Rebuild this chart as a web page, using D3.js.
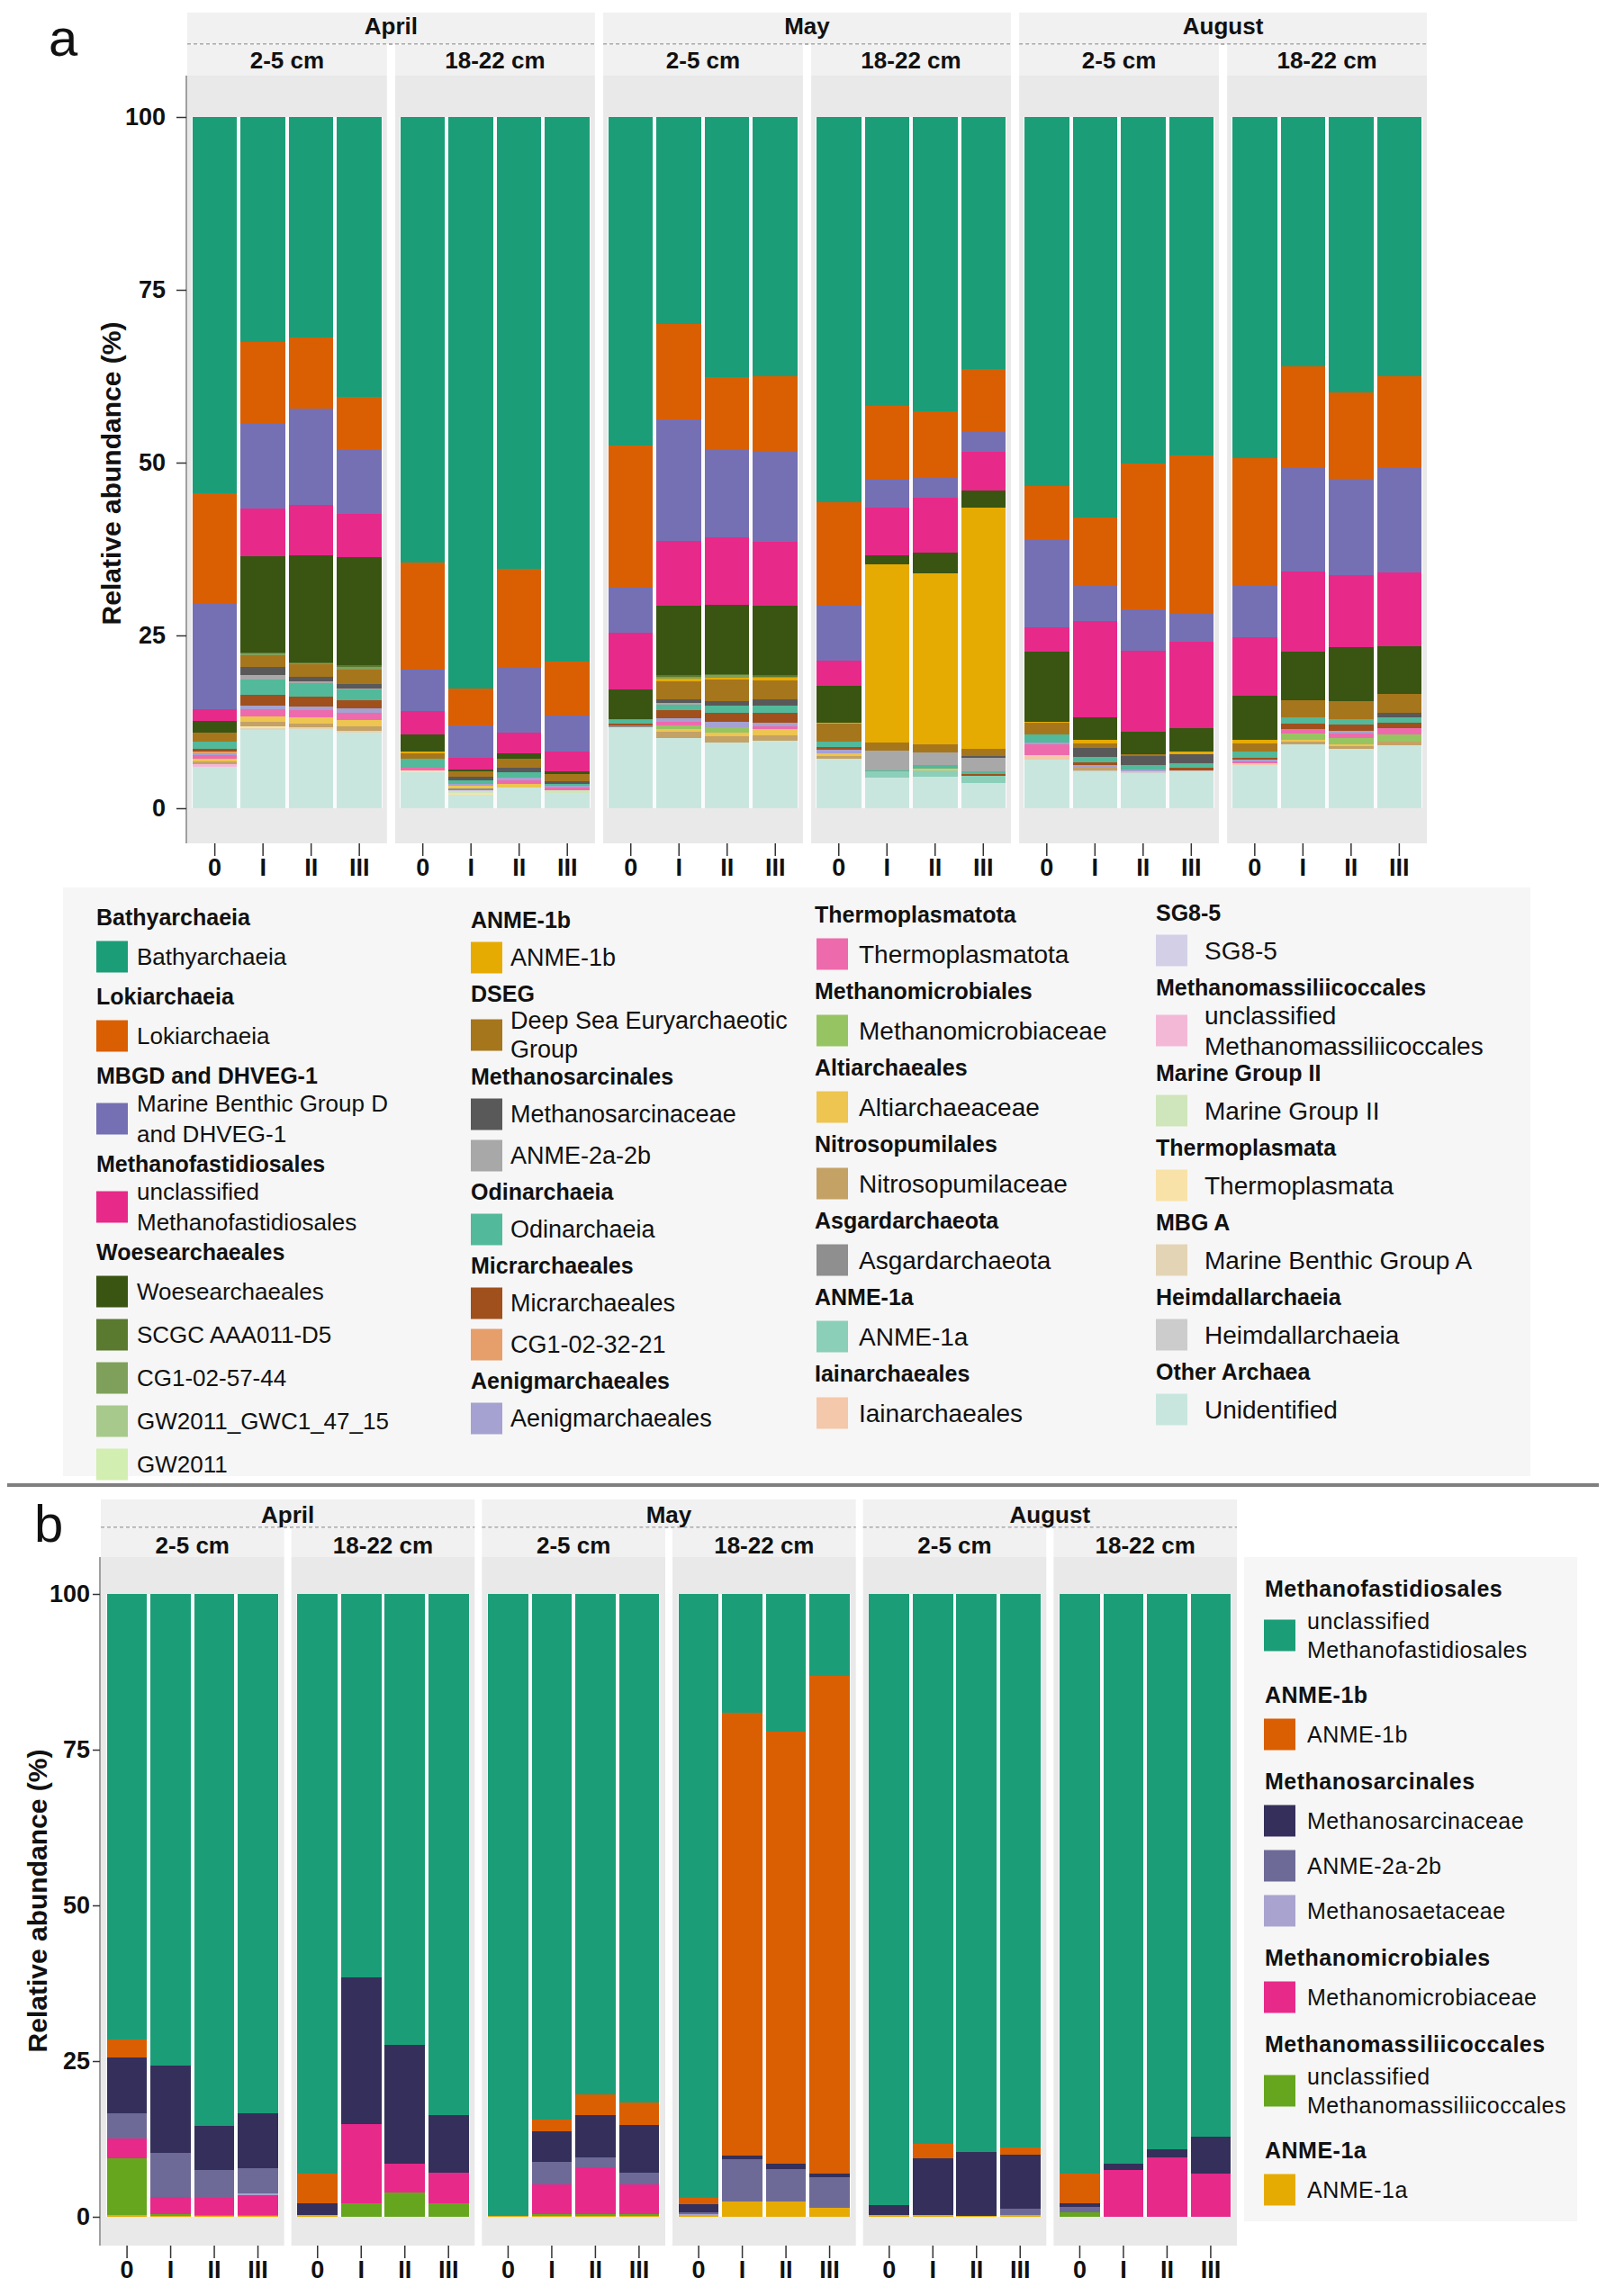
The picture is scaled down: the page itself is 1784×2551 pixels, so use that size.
<!DOCTYPE html>
<html>
<head>
<meta charset="utf-8">
<script src="https://cdn.jsdelivr.net/npm/d3@7"></script>
<style>
  body { margin: 0; background: #fff; }
  svg text { font-family: "Liberation Sans", Arial, sans-serif; }
</style>
</head>
<body>
<svg id="fig" width="1784" height="2551"></svg>
<script>
// facets and samples
const months = ["April", "May", "August"];
const depths = ["2-5 cm", "18-22 cm"];
const treatments = ["0", "I", "II", "III"];
const yTicks = [0, 25, 50, 75, 100];

// ---------- panel a : archaeal community (top of the stack first) ----------
const taxaA = ["Bathyarchaeia", "Lokiarchaeia", "Marine Benthic Group D|and DHVEG-1", "unclassified|Methanofastidiosales",
  "Woesearchaeales", "SCGC AAA011-D5", "CG1-02-57-44", "GW2011_GWC1_47_15", "GW2011", "ANME-1b",
  "Deep Sea Euryarchaeotic|Group", "Methanosarcinaceae", "ANME-2a-2b", "Odinarchaeia", "Micrarchaeales",
  "CG1-02-32-21", "Aenigmarchaeales", "Thermoplasmatota", "Methanomicrobiaceae", "Altiarchaeaceae",
  "Nitrosopumilaceae", "Asgardarchaeota", "ANME-1a", "Iainarchaeales", "SG8-5",
  "unclassified|Methanomassiliicoccales", "Marine Group II", "Thermoplasmata", "Marine Benthic Group A",
  "Heimdallarchaeia", "Unidentified"];
const colorsA = ["#1b9e77", "#d95f02", "#7570b3", "#e7298a", "#3a5412", "#5a7a30", "#7fa05a", "#a8c98c",
  "#d2eeb0", "#e6ab02", "#a6761d", "#595959", "#a8a8a8", "#52b99a", "#a0501c", "#e69e6a", "#a5a1d0",
  "#ed6bad", "#97c463", "#edc550", "#c4a266", "#8f8f8f", "#8bcfb9", "#f4c8aa", "#d2cfe7", "#f4b8d7",
  "#cfe5bb", "#f8e2a8", "#e3d4b5", "#cccccc", "#c9e6de"];

// values (%), 24 samples: April 2-5 (0,I,II,III), April 18-22, May 2-5, May 18-22, August 2-5, August 18-22
const bathyarchaeia = [54.3, 32.5, 31.9, 40.4, 64.4, 82.8, 65.4, 78.8, 47.4, 29.9, 37.4, 37.4, 55.7, 41.8, 42.7, 36.5, 53.3, 58.1, 50.2, 49.0, 49.4, 36.1, 39.8, 37.4];
const lokiarchaeia = [15.8, 11.8, 10.3, 7.5, 15.5, 5.3, 14.2, 7.7, 20.5, 13.8, 10.5, 10.8, 15.0, 10.7, 9.5, 9.0, 7.7, 9.8, 21.0, 22.8, 18.5, 14.5, 12.4, 13.2];
const mbgd = [15.3, 12.2, 13.9, 9.4, 5.9, 4.8, 9.4, 5.3, 6.5, 17.5, 12.6, 13.2, 8.0, 4.0, 3.0, 2.9, 12.8, 5.3, 6.1, 4.2, 7.5, 15.2, 13.9, 15.2];
const methanofast = [1.75, 6.9, 7.3, 6.2, 3.4, 1.7, 3.0, 2.8, 8.1, 9.3, 9.6, 9.1, 3.6, 7.0, 7.9, 5.7, 3.5, 13.9, 11.7, 12.6, 8.4, 11.5, 10.5, 10.6];
const woese = [1.6, 13.9, 15.5, 15.6, 2.5, 0.25, 0.8, 0.35, 4.4, 10.1, 10.0, 10.1, 5.3, 1.2, 3.0, 2.4, 10.1, 3.3, 3.2, 3.3, 6.4, 7.1, 7.7, 7.0];
const scgc = [0, 0.2, 0.15, 0.2, 0, 0, 0, 0, 0, 0.2, 0.2, 0.2, 0, 0, 0, 0, 0, 0, 0, 0, 0, 0, 0, 0];
const cg1_57 = [0, 0.2, 0.15, 0.4, 0, 0, 0, 0, 0.1, 0.35, 0.3, 0.2, 0, 0, 0, 0, 0, 0, 0, 0, 0, 0, 0, 0];
const gwc1 = [0, 0.1, 0, 0, 0, 0, 0, 0, 0, 0, 0, 0, 0, 0, 0, 0, 0, 0, 0, 0, 0, 0, 0, 0];
const gw2011 = [0, 0, 0, 0, 0, 0, 0, 0, 0, 0, 0, 0, 0, 0, 0, 0, 0, 0, 0, 0, 0, 0, 0, 0];
const anme1b = [0, 0, 0, 0, 0.25, 0, 0, 0, 0, 0.3, 0.35, 0.3, 0.2, 25.9, 24.8, 35.0, 0.25, 0.45, 0, 0.45, 0.55, 0, 0, 0];
const dseg = [1.4, 1.6, 1.8, 2.1, 0.85, 0.8, 1.3, 1.1, 0, 2.6, 3.1, 2.8, 2.5, 1.05, 1.2, 1.0, 1.6, 0.7, 0.3, 0, 1.2, 2.4, 2.7, 2.7];
const methanosarc = [0, 1.2, 0.6, 0.6, 0, 0.5, 0.75, 0.35, 0, 0.5, 0.65, 0.95, 0, 0, 0, 0.2, 0, 1.35, 1.3, 1.3, 0, 0, 0, 0.6];
const anme2 = [0, 0.7, 0.3, 0.2, 0, 0, 0, 0, 0, 0.25, 0, 0, 0, 2.9, 1.8, 2.0, 0, 0, 0, 0, 0, 0, 0, 0];
const odinarch = [1.0, 2.2, 2.0, 1.5, 1.2, 0.5, 0.75, 0.3, 0.5, 0.85, 0.95, 1.0, 0.9, 0.2, 0.45, 0.35, 1.2, 0.75, 0.65, 0.65, 0.85, 0.95, 0.75, 0.8];
const micrarch = [0.35, 1.5, 1.4, 1.2, 0, 0, 0, 0, 0.2, 1.15, 1.3, 1.4, 0.3, 0, 0, 0.3, 0, 0.35, 0, 0.4, 0.3, 0.8, 0.85, 0.8];
const cg1_32 = [0.3, 0, 0, 0, 0, 0, 0, 0, 0, 0, 0, 0, 0, 0, 0, 0, 0, 0, 0, 0, 0, 0, 0, 0];
const aenigm = [0.3, 0.6, 0.5, 0.7, 0, 0.3, 0.4, 0.3, 0, 0.55, 0.8, 0.55, 0.5, 0, 0, 0, 0.3, 0.45, 0.3, 0, 0.3, 0, 0.45, 0];
const thermoplasmatota = [0.5, 1.0, 1.1, 1.0, 0.5, 0, 0.5, 0.3, 0, 0.45, 0, 0.4, 0, 0, 0, 0, 1.5, 0, 0, 0, 0.25, 0.65, 0.55, 0.95];
const methanomicro = [0, 0, 0, 0, 0, 0, 0, 0, 0, 0.5, 0.75, 0, 0, 0, 0, 0, 0, 0, 0, 0, 0, 0.85, 0.95, 0.95];
const altiarch = [0.4, 0.75, 0.8, 0.9, 0, 0.3, 0.5, 0, 0, 0.45, 0.55, 0.85, 0.4, 0, 0.35, 0, 0, 0, 0, 0, 0, 0.35, 0.3, 0];
const nitroso = [0.4, 0.65, 0.6, 0.6, 0, 0, 0, 0, 0, 0.85, 0.85, 0.85, 0.4, 0, 0, 0, 0, 0.3, 0, 0, 0, 0.3, 0.35, 0.55];
const asgard = [0, 0, 0, 0, 0, 0.3, 0, 0, 0.3, 0, 0, 0, 0, 0, 0, 0, 0, 0, 0, 0, 0, 0, 0, 0];
const anme1a = [0, 0, 0, 0, 0, 0, 0, 0, 0, 0, 0, 0, 0, 0.9, 0.95, 1.0, 0, 0, 0, 0, 0, 0, 0, 0];
const iainarch = [0, 0, 0, 0, 0, 0, 0, 0, 0, 0, 0, 0, 0, 0, 0, 0, 0.7, 0, 0, 0, 0.3, 0, 0, 0];
const sg85 = [0, 0, 0, 0, 0, 0.1, 0, 0, 0, 0, 0, 0, 0, 0, 0, 0, 0, 0, 0, 0, 0, 0, 0, 0];
const methanomass = [0.3, 0, 0, 0, 0, 0, 0, 0, 0, 0, 0, 0, 0, 0, 0, 0, 0, 0, 0, 0, 0, 0, 0, 0];
const mg2 = [0, 0, 0, 0, 0, 0.3, 0, 0.4, 0, 0, 0, 0, 0, 0, 0, 0, 0, 0, 0, 0, 0, 0, 0, 0];
const thermoplasmata = [0, 0.3, 0, 0, 0.2, 0.3, 0, 0, 0, 0, 0, 0, 0, 0, 0, 0, 0, 0, 0, 0, 0, 0, 0, 0];
const mbga = [0, 0.3, 0.2, 0.3, 0, 0, 0, 0, 0, 0, 0, 0, 0, 0, 0, 0, 0, 0, 0, 0, 0, 0, 0, 0];
const heimdall = [0, 0, 0, 0, 0, 0, 0, 0, 0, 0, 0, 0, 0, 0, 0, 0, 0, 0.15, 0.2, 0.15, 0, 0, 0, 0];
const unidentified = [6.0, 11.25, 11.5, 10.9, 5.2, 1.9, 3.0, 2.25, 11.7, 10.2, 9.5, 9.7, 7.2, 4.4, 4.5, 3.7, 7.0, 5.4, 5.1, 5.3, 6.2, 9.3, 8.6, 9.1];

const valuesA = [bathyarchaeia, lokiarchaeia, mbgd, methanofast, woese, scgc, cg1_57, gwc1, gw2011, anme1b,
  dseg, methanosarc, anme2, odinarch, micrarch, cg1_32, aenigm, thermoplasmatota, methanomicro, altiarch,
  nitroso, asgard, anme1a, iainarch, sg85, methanomass, mg2, thermoplasmata, mbga, heimdall, unidentified];

// legend groups of panel a, one list per column: [group title, member indices]
const legendA1 = [["Bathyarchaeia", [0]], ["Lokiarchaeia", [1]], ["MBGD and DHVEG-1", [2]],
  ["Methanofastidiosales", [3]], ["Woesearchaeales", [4, 5, 6, 7, 8]]];
const legendA2 = [["ANME-1b", [9]], ["DSEG", [10]], ["Methanosarcinales", [11, 12]], ["Odinarchaeia", [13]],
  ["Micrarchaeales", [14, 15]], ["Aenigmarchaeales", [16]]];
const legendA3 = [["Thermoplasmatota", [17]], ["Methanomicrobiales", [18]], ["Altiarchaeales", [19]],
  ["Nitrosopumilales", [20]], ["Asgardarchaeota", [21]], ["ANME-1a", [22]], ["Iainarchaeales", [23]]];
const legendA4 = [["SG8-5", [24]], ["Methanomassiliicoccales", [25]], ["Marine Group II", [26]],
  ["Thermoplasmata", [27]], ["MBG  A", [28]], ["Heimdallarchaeia", [29]], ["Other Archaea", [30]]];

// ---------- panel b : methanogens / methanotrophs ----------
const taxaB = ["unclassified|Methanofastidiosales", "ANME-1b", "Methanosarcinaceae", "ANME-2a-2b",
  "Methanosaetaceae", "Methanomicrobiaceae", "unclassified|Methanomassiliicoccales", "ANME-1a"];
const colorsB = ["#1b9e77", "#d95f02", "#34305b", "#6e6a97", "#a9a3d0", "#e7298a", "#66a61e", "#e6ab02"];

const bMethanofast = [71.6, 75.7, 85.3, 83.4, 93.1, 61.5, 72.4, 83.6, 99.8, 84.5, 80.4, 81.7, 96.9, 19.1, 22.1, 13.2, 98.05, 88.3, 89.6, 88.9, 93.1, 91.5, 89.1, 87.2];
const bAnme1b = [2.8, 0, 0, 0, 4.8, 0, 0, 0, 0, 1.9, 3.2, 3.6, 1.1, 71.1, 69.4, 79.9, 0, 2.3, 0, 1.1, 4.8, 0, 0, 0];
const bMethanosarc = [9.0, 14.0, 7.2, 8.7, 1.85, 23.5, 19.1, 9.35, 0, 4.9, 6.8, 7.6, 1.25, 0.5, 0.85, 0.5, 1.7, 9.15, 10.2, 8.7, 0.6, 1.0, 1.3, 5.9];
const bAnme2 = [4.0, 7.1, 4.4, 4.1, 0, 0, 0, 0, 0, 3.6, 1.7, 1.9, 0.3, 6.8, 5.1, 5.0, 0, 0, 0, 1.0, 0.85, 0, 0, 0];
const bMethanosaeta = [0, 0, 0, 0.3, 0, 0, 0, 0, 0, 0, 0, 0, 0.2, 0, 0, 0, 0, 0, 0, 0, 0, 0, 0, 0];
const bMethanomicro = [3.2, 2.8, 2.8, 3.2, 0, 12.7, 4.6, 4.95, 0, 4.7, 7.4, 4.7, 0, 0, 0, 0, 0, 0, 0, 0, 0, 7.5, 9.6, 6.9];
const bMethanomass = [9.2, 0.2, 0.15, 0.15, 0, 2.2, 3.9, 2.1, 0, 0.3, 0.3, 0.3, 0, 0, 0, 0, 0, 0, 0, 0, 0.7, 0, 0, 0];
const bAnme1a = [0.25, 0.2, 0.1, 0.1, 0.25, 0, 0, 0, 0.2, 0.2, 0.2, 0.2, 0.2, 2.5, 2.5, 1.4, 0.25, 0.25, 0.2, 0.25, 0, 0, 0, 0];

const valuesB = [bMethanofast, bAnme1b, bMethanosarc, bAnme2, bMethanosaeta, bMethanomicro, bMethanomass, bAnme1a];

const legendB = [["Methanofastidiosales", [0]], ["ANME-1b", [1]], ["Methanosarcinales", [2, 3, 4]],
  ["Methanomicrobiales", [5]], ["Methanomassiliicoccales", [6]], ["ANME-1a", [7]]];

// ---------------------------------------------------------------
const svg = d3.select("#fig");

const samples = months.flatMap(m => depths.flatMap(d => treatments.map(t => ({ month: m, depth: d, trt: t }))));

function buildRows(taxa, values) {
  return samples.map((s, i) => {
    const r = Object.assign({}, s);
    taxa.forEach((t, k) => { r[t] = values[k][i]; });
    return r;
  });
}

function drawPanel(p) {
  const facetKeys = months.flatMap(m => depths.map(d => m + "|" + d));
  const fx = d3.scaleBand().domain(facetKeys).range(p.facetRange).paddingInner(p.facetPad);
  const bx = d3.scaleBand().domain(treatments).range([0, fx.bandwidth()])
    .paddingInner(p.barPadIn).paddingOuter(p.barPadOut);
  const y = d3.scaleLinear().domain([0, 1]).range([p.y0, p.y100]);
  const color = d3.scaleOrdinal().domain(p.taxa).range(p.colors);

  // ggplot-like fill position: bottom taxon is the last one
  const series = d3.stack().keys(p.taxa.slice().reverse()).offset(d3.stackOffsetExpand)(p.rows);

  // month strips with dashed separator
  months.forEach(m => {
    const xa = fx(m + "|" + depths[0]);
    const xb = fx(m + "|" + depths[1]) + fx.bandwidth();
    svg.append("rect").attr("x", xa).attr("y", p.stripTop).attr("width", xb - xa)
      .attr("height", p.stripMid - p.stripTop).attr("fill", "#f1f1f1");
    svg.append("line").attr("x1", xa).attr("x2", xb).attr("y1", p.stripMid).attr("y2", p.stripMid)
      .attr("stroke", "#666").attr("stroke-width", 1.2).attr("stroke-dasharray", "4,3");
    svg.append("text").attr("x", (xa + xb) / 2).attr("y", p.monthY).attr("text-anchor", "middle")
      .attr("font-weight", "bold").attr("font-size", 26).attr("fill", "#111").text(m);
  });

  facetKeys.forEach(f => {
    const [m, d] = f.split("|");
    const g = svg.append("g").attr("transform", `translate(${fx(f)},0)`);
    g.append("rect").attr("x", 0).attr("y", p.stripMid + 0.6).attr("width", fx.bandwidth())
      .attr("height", p.stripBot - p.stripMid - 0.6).attr("fill", "#f1f1f1");
    g.append("text").attr("x", fx.bandwidth() / 2).attr("y", p.depthY).attr("text-anchor", "middle")
      .attr("font-weight", "bold").attr("font-size", 26).attr("fill", "#111").text(d);
    g.append("rect").attr("x", 0).attr("y", p.stripBot).attr("width", fx.bandwidth())
      .attr("height", p.panelBot - p.stripBot).attr("fill", "#e9e9e9");
    // white backing shows as the gaps between bars
    const x0 = bx(treatments[0]) - 1, x1 = bx(treatments[treatments.length - 1]) + bx.bandwidth() + 1;
    g.append("rect").attr("x", x0).attr("y", y(1)).attr("width", x1 - x0).attr("height", y(0) - y(1))
      .attr("fill", "#fbfbfb");

    series.forEach(s => {
      g.selectAll(null)
        .data(s.filter(v => v.data.month === m && v.data.depth === d))
        .join("rect")
        .attr("x", v => bx(v.data.trt))
        .attr("width", bx.bandwidth())
        .attr("y", v => y(v[1]))
        .attr("height", v => Math.max(0, y(v[0]) - y(v[1])))
        .attr("fill", color(s.key))
        .attr("shape-rendering", "crispEdges");
    });

    const xa = g.append("g").attr("transform", `translate(0,${p.panelBot})`)
      .call(d3.axisBottom(bx).tickSize(p.xTick).tickPadding(3));
    xa.select(".domain").remove();
    xa.selectAll("line").attr("stroke", "#333").attr("stroke-width", 1.5);
    xa.selectAll("text").attr("font-family", "Liberation Sans").attr("font-weight", "bold")
      .attr("font-size", 27).attr("fill", "#111");
  });

  // y axis
  svg.append("line").attr("x1", p.axisX).attr("x2", p.axisX).attr("y1", p.stripBot).attr("y2", p.panelBot)
    .attr("stroke", "#a0a0a0").attr("stroke-width", 2);
  const ya = svg.append("g").attr("transform", `translate(${p.axisX},0)`)
    .call(d3.axisLeft(y).tickValues(yTicks.map(v => v / 100)).tickFormat(v => Math.round(v * 100))
      .tickSize(p.yTick).tickPadding(p.yPad));
  ya.select(".domain").remove();
  ya.selectAll("line").attr("stroke", "#333").attr("stroke-width", 1.5);
  ya.selectAll("text").attr("font-family", "Liberation Sans").attr("font-weight", "bold")
    .attr("font-size", 27).attr("fill", "#111");

  svg.append("text").attr("transform", `translate(${p.titleX},${p.titleY}) rotate(-90)`)
    .attr("text-anchor", "middle").attr("dy", "0.35em").attr("font-weight", "bold")
    .attr("font-size", 30).attr("fill", "#111").text("Relative abundance (%)");

  svg.append("text").attr("x", p.letterX).attr("y", p.letterY).attr("font-size", 58)
    .attr("fill", "#111").text(p.letter);
}

function drawLegendColumn(col, groups, taxa, colors) {
  let y = col.y0;
  let prevTwo = false;
  groups.forEach((grp, gi) => {
    if (gi > 0) y += col.st + (prevTwo ? col.st2 : 0);
    svg.append("text").attr("x", col.x).attr("y", y).attr("dy", "0.35em")
      .attr("font-weight", "bold").attr("font-size", col.titleSize).attr("fill", "#111")
      .attr("letter-spacing", col.spacing).text(grp[0]);
    grp[1].forEach((k, ii) => {
      const lines = taxa[k].split("|");
      const two = lines.length > 1;
      y += ii === 0 ? col.tg + (two ? col.tg2 : 0) : col.ss;
      svg.append("rect").attr("x", col.swX).attr("y", y - col.sw / 2).attr("width", col.sw)
        .attr("height", col.sw).attr("fill", colors[k]);
      const t = svg.append("text").attr("x", col.txtX).attr("font-size", col.size).attr("fill", "#111")
        .attr("letter-spacing", col.spacing);
      lines.forEach((ln, li) => {
        t.append("tspan").attr("x", col.txtX)
          .attr("y", y + (two ? (li === 0 ? -col.lineGap : col.lineGap) : 0))
          .attr("dy", "0.35em").text(ln);
      });
      prevTwo = two;
    });
  });
}

// ---------- panel a ----------
drawPanel({
  taxa: taxaA, colors: colorsA, rows: buildRows(taxaA, valuesA),
  facetRange: [208, 1585], facetPad: 0.04, barPadIn: 0.075, barPadOut: 0.11,
  y0: 898, y100: 130, stripTop: 14, stripMid: 49, stripBot: 84, panelBot: 937,
  monthY: 38, depthY: 76, axisX: 207, yTick: 11, yPad: 12, xTick: 14,
  titleX: 123, titleY: 526, letter: "a", letterX: 54, letterY: 62
});

svg.append("rect").attr("x", 70).attr("y", 986).attr("width", 1630).attr("height", 654).attr("fill", "#f6f6f6");
const colsA = [
  { x: 107, swX: 107, txtX: 152, size: 26, titleSize: 25, y0: 1019, tg: 44, tg2: 4, ss: 48, st: 44, st2: 6, sw: 35, lineGap: 17, spacing: 0 },
  { x: 523, swX: 523, txtX: 567, size: 27, titleSize: 25, y0: 1022, tg: 42, tg2: 4, ss: 46, st: 40, st2: 6, sw: 35, lineGap: 16, spacing: 0 },
  { x: 905, swX: 907, txtX: 954, size: 28, titleSize: 25, y0: 1016, tg: 44, tg2: 4, ss: 48, st: 41, st2: 6, sw: 35, lineGap: 17, spacing: 0 },
  { x: 1284, swX: 1284, txtX: 1338, size: 28, titleSize: 25, y0: 1014, tg: 42, tg2: 6, ss: 48, st: 41, st2: 6, sw: 35, lineGap: 17, spacing: 0 }
];
[legendA1, legendA2, legendA3, legendA4].forEach((grp, i) => drawLegendColumn(colsA[i], grp, taxaA, colorsA));

// separator between the two panels
svg.append("line").attr("x1", 8).attr("x2", 1776).attr("y1", 1650).attr("y2", 1650)
  .attr("stroke", "#7f7f7f").attr("stroke-width", 4);

// ---------- panel b ----------
drawPanel({
  taxa: taxaB, colors: colorsB, rows: buildRows(taxaB, valuesB),
  facetRange: [112, 1374], facetPad: 0.038, barPadIn: 0.08, barPadOut: 0.14,
  y0: 2463, y100: 1771, stripTop: 1666, stripMid: 1697, stripBot: 1730, panelBot: 2495,
  monthY: 1692, depthY: 1726, axisX: 111, yTick: 8, yPad: 3, xTick: 14,
  titleX: 41, titleY: 2112, letter: "b", letterX: 38, letterY: 1713
});

svg.append("rect").attr("x", 1382).attr("y", 1730).attr("width", 370).attr("height", 738).attr("fill", "#f6f6f6");
drawLegendColumn({ x: 1405, swX: 1404, txtX: 1452, size: 25, titleSize: 25, y0: 1765, tg: 44, tg2: 8, ss: 50, st: 52, st2: 14, sw: 35, lineGap: 16, spacing: 0.5 },
  legendB, taxaB, colorsB);
</script>
</body>
</html>
